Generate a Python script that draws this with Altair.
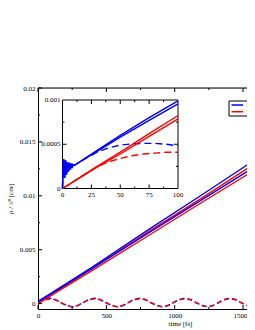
import altair as alt
import pandas as pd

# ---------------- data ----------------
T_BLUE = [0, 0.5, 1, 1.8, 2.6, 3.4, 4.2, 5, 5.8, 6.6, 7.4, 8.2, 9, 10, 30, 50, 75, 100, 400, 800, 1200, 1600]
BLUE_A = [0, 0.00025, 0.00033, 0.00012, 0.00032, 0.00016, 0.0003, 0.00019, 0.00029, 0.00021, 0.00028,
          0.00023, 0.00027, 0.00026, 0.00043, 0.0006, 0.0008, 0.00099, 0.0034, 0.0068, 0.0101, 0.01345]
BLUE_B = [0, 0.00025, 0.00033, 0.00012, 0.00032, 0.00016, 0.0003, 0.00019, 0.00029, 0.00021, 0.00028,
          0.00023, 0.00027, 0.00026, 0.00042, 0.00058, 0.00077, 0.000955, 0.0033, 0.0065, 0.00965, 0.0128]
T_RED = [0, 30, 50, 75, 100, 400, 800, 1200, 1600]
RED_A = [0, 0.00025, 0.00041, 0.00062, 0.000825, 0.0033, 0.0066, 0.0098, 0.0131]
RED_B = [0, 0.00024, 0.00039, 0.00059, 0.000787, 0.0031, 0.00625, 0.0094, 0.0125]

T_BLUE_D = [0, 0.5, 1, 1.8, 2.6, 3.4, 4.2, 5, 5.8, 6.6, 7.4, 8.2, 9, 10, 20, 30, 40, 50, 60, 70, 80, 90, 100,
            125, 165, 210, 250, 290, 330, 370, 415, 455, 495, 540, 580, 620, 660, 700, 745, 785, 825, 870,
            910, 950, 990, 1030, 1075, 1115, 1155, 1200, 1240, 1280, 1320, 1360, 1405, 1445, 1485, 1530,
            1570, 1600]
BLUE_D = [0, 0.00025, 0.00033, 0.00012, 0.00032, 0.00016, 0.0003, 0.00019, 0.00029, 0.00021, 0.00028,
          0.00023, 0.00027, 0.00026, 0.00034, 0.00041, 0.00046, 0.00049, 0.000505, 0.00051, 0.00051, 0.0005,
          0.00048, 0.0004, 0.00012, -0.00017, -0.0003, -0.00018, 0.0001, 0.00038, 0.0005, 0.00038, 0.0001,
          -0.00018, -0.0003, -0.00018, 0.0001, 0.00038, 0.0005, 0.00038, 0.0001, -0.00018, -0.0003, -0.00018,
          0.0001, 0.00038, 0.0005, 0.00038, 0.0001, -0.00018, -0.0003, -0.00018, 0.0001, 0.00038, 0.0005,
          0.00038, 0.0001, -0.00018, -0.0003, -0.00025]
T_RED_D = [0, 30, 40, 50, 60, 70, 80, 90, 100, 125, 165, 210, 250, 290, 330, 370, 415, 455, 495, 540, 580,
           620, 660, 700, 745, 785, 825, 870, 910, 950, 990, 1030, 1075, 1115, 1155, 1200, 1240, 1280, 1320,
           1360, 1405, 1445, 1485, 1530, 1570, 1600]
RED_D = [0, 0.00025, 0.0003, 0.00034, 0.00037, 0.00039, 0.0004, 0.00041, 0.00041, 0.00036, 0.0001,
         -0.00017, -0.0003, -0.00019, 0.00008, 0.00034, 0.00046, 0.00036, 0.00009, -0.00018, -0.0003,
         -0.00019, 0.00008, 0.00034, 0.00046, 0.00036, 0.00009, -0.00018, -0.0003, -0.00019, 0.00008,
         0.00034, 0.00046, 0.00036, 0.00009, -0.00018, -0.0003, -0.00019, 0.00008, 0.00034, 0.00046,
         0.00036, 0.00009, -0.00018, -0.0003, -0.00026]

X_TICKS = [0, 500, 1000, 1500]
X_MINOR = [250, 750, 1250]
Y_TICKS = [0, 0.005, 0.01, 0.015, 0.02]
Y_MINOR = [0.0025, 0.0075, 0.0125, 0.0175]
INSET_X_TICKS = [0, 25, 50, 75, 100]
INSET_X_MINOR = [12.5, 37.5, 62.5, 87.5]
INSET_Y_TICKS = [0, 0.0005, 0.001]
INSET_Y_LABELS = ["0", "0.0005", "0.001"]
INSET_Y_MINOR = [0.00025, 0.00075]
LEGEND_LABELS = ["HEOM", "WPD"]
COLORS = {"blue": "#0000ff", "red": "#ff0000"}

FONT = "Liberation Serif"

def series(ts, vs, name, col):
    return pd.DataFrame({"t": ts, "v": vs, "series": name, "col": col})

solid = pd.concat([
    series(T_BLUE, BLUE_A, "blueA", "blue"),
    series(T_RED, RED_A, "redA", "red"),
    series(T_BLUE, BLUE_B, "blueB", "blue"),
    series(T_RED, RED_B, "redB", "red"),
])
dashed = pd.concat([
    series(T_BLUE_D, BLUE_D, "blueD", "blue"),
    series(T_RED_D, RED_D, "redD", "red"),
])
solid_in = solid[solid.t <= 100]
dashed_in = dashed[dashed.t <= 100]

# plot area: the reference plot runs past the right edge of the picture
W, H = 209, 221
X_MAX = 1529
xs = alt.Scale(domain=[0, X_MAX], nice=False, zero=False)
ys = alt.Scale(domain=[-0.0005, 0.02], nice=False, zero=False)
cs = alt.Scale(domain=list(COLORS.keys()), range=list(COLORS.values()))

IX0, IX1 = 24.5, 140
IY0, IY1 = 100.5, 12
ixs = alt.Scale(domain=[0, 100], range=[IX0, IX1], nice=False, zero=False)
iys = alt.Scale(domain=[0, 0.001], range=[IY0, IY1], nice=False, zero=False)

x_axis = alt.Axis(values=X_TICKS, format="d", title="time [fs]", tickSize=0, domain=True,
                  domainColor="black", domainWidth=1, grid=False,
                  labelFont=FONT, labelFontSize=7, labelColor="black", labelPadding=2,
                  labelAlign={"condition": {"test": "datum.value == 1500", "value": "right"}, "value": "center"},
                  labelOffset={"condition": {"test": "datum.value == 1500", "value": 4}, "value": 0},
                  titleFont=FONT, titleFontSize=7, titleFontWeight="normal", titleColor="black",
                  titlePadding=1, titleX=142, titleAnchor="middle")
y_axis = alt.Axis(values=Y_TICKS, format="~g", title="ρ / λᴮ [cm]", tickSize=0, domain=True,
                  domainColor="black", domainWidth=1, grid=False,
                  labelFont=FONT, labelFontSize=7, labelColor="black", labelPadding=3,
                  titleFont=FONT, titleFontSize=7, titleFontWeight="normal", titleColor="black",
                  titlePadding=6)

main_solid = alt.Chart(solid).mark_line(clip=True, strokeWidth=1.4).encode(
    x=alt.X("t:Q", scale=xs, axis=x_axis),
    y=alt.Y("v:Q", scale=ys, axis=y_axis),
    color=alt.Color("col:N", scale=cs, legend=None),
    detail="series:N",
    order="t:Q",
)
main_dashed = alt.Chart(dashed).mark_line(clip=True, strokeWidth=1.4, strokeDash=[5, 3]).encode(
    x=alt.X("t:Q", scale=xs, axis=x_axis),
    y=alt.Y("v:Q", scale=ys, axis=y_axis),
    color=alt.Color("col:N", scale=cs, legend=None),
    detail="series:N",
    order="t:Q",
)

def xticks(vals, scale, ya, yb, axis=None):
    return alt.Chart(pd.DataFrame({"v": vals})).mark_rule(color="black", strokeWidth=1).encode(
        x=alt.X("v:Q", scale=scale, axis=axis), y=alt.value(ya), y2=alt.value(yb))

def yticks(vals, scale, xa, xb, axis=None):
    return alt.Chart(pd.DataFrame({"v": vals})).mark_rule(color="black", strokeWidth=1).encode(
        y=alt.Y("v:Q", scale=scale, axis=axis), x=alt.value(xa), x2=alt.value(xb))

top_frame = alt.Chart(pd.DataFrame({"a": [0]})).mark_rule(color="black", strokeWidth=1).encode(
    x=alt.value(0), x2=alt.value(W + 10), y=alt.value(0))

main_ticks = [
    xticks(X_TICKS, xs, H, H - 4, x_axis), xticks(X_TICKS, xs, 0, 4, x_axis),
    xticks(X_MINOR, xs, H, H - 2, x_axis), xticks(X_MINOR, xs, 0, 2, x_axis),
    yticks(Y_TICKS, ys, 0, 4, y_axis), yticks(Y_MINOR, ys, 0, 2, y_axis),
]

main = alt.layer(main_solid, main_dashed, *main_ticks)

frame = alt.Chart(pd.DataFrame({"a": [0]})).mark_rect(fill="white", stroke="black", strokeWidth=1).encode(
    x=alt.datum(0, scale=ixs, axis=None), x2=alt.datum(100),
    y=alt.datum(0, scale=iys, axis=None), y2=alt.datum(0.001),
)
in_solid = alt.Chart(solid_in).mark_line(strokeWidth=1.4).encode(
    x=alt.X("t:Q", scale=ixs, axis=None),
    y=alt.Y("v:Q", scale=iys, axis=None),
    color=alt.Color("col:N", scale=cs, legend=None),
    detail="series:N",
    order="t:Q",
)
in_dashed = alt.Chart(dashed_in).mark_line(strokeWidth=1.4, strokeDash=[7, 4]).encode(
    x=alt.X("t:Q", scale=ixs, axis=None),
    y=alt.Y("v:Q", scale=iys, axis=None),
    color=alt.Color("col:N", scale=cs, legend=None),
    detail="series:N",
    order="t:Q",
)
in_ticks = [
    xticks(INSET_X_TICKS[1:-1], ixs, IY0, IY0 - 4), xticks(INSET_X_TICKS[1:-1], ixs, IY1, IY1 + 4),
    xticks(INSET_X_MINOR, ixs, IY0, IY0 - 2), xticks(INSET_X_MINOR, ixs, IY1, IY1 + 2),
    yticks(INSET_Y_TICKS[1:-1], iys, IX0, IX0 + 4), yticks(INSET_Y_TICKS[1:-1], iys, IX1, IX1 - 4),
    yticks(INSET_Y_MINOR, iys, IX0, IX0 + 2), yticks(INSET_Y_MINOR, iys, IX1, IX1 - 2),
]
in_xlab = alt.Chart(pd.DataFrame({"v": INSET_X_TICKS, "s": [str(v) for v in INSET_X_TICKS]})).mark_text(
    font=FONT, fontSize=7, baseline="top", color="black").encode(
    x=alt.X("v:Q", scale=ixs, axis=None), y=alt.value(IY0 + 2.5), text="s:N")
in_ylab = alt.Chart(pd.DataFrame({"v": INSET_Y_TICKS, "s": INSET_Y_LABELS})).mark_text(
    font=FONT, fontSize=7, align="right", baseline="middle", color="black").encode(
    y=alt.Y("v:Q", scale=iys, axis=None), x=alt.value(IX0 - 2), text="s:N")

inset = alt.layer(frame, in_dashed, in_solid, *in_ticks, in_xlab, in_ylab)

one = pd.DataFrame({"a": [0]})
leg_box = alt.Chart(one).mark_rect(fill="white", stroke="black", strokeWidth=1).encode(
    x=alt.value(191), x2=alt.value(260), y=alt.value(13), y2=alt.value(28))
leg = [top_frame, leg_box]
for i, (lab, col) in enumerate(zip(LEGEND_LABELS, COLORS.values())):
    yy = 17 + i * 6.7
    leg.append(alt.Chart(one).mark_rule(color=col, strokeWidth=1.5).encode(
        x=alt.value(193.5), x2=alt.value(205), y=alt.value(yy)))
    leg.append(alt.Chart(pd.DataFrame({"s": [lab]})).mark_text(
        font=FONT, fontSize=7, align="left", baseline="middle", color="black").encode(
        x=alt.value(208.5), y=alt.value(yy), text="s:N"))
legend = alt.layer(*leg)

chart = alt.layer(main, inset, legend).resolve_scale(
    x="independent", y="independent", color="independent"
).properties(
    width=W, height=H,
    padding={"left": 30, "top": 80, "right": 0, "bottom": 25},
    autosize=alt.AutoSizeParams(type="none"),
).configure_view(stroke=None).configure(background="white")

chart.save("out.html", embed_options={"renderer": "svg", "actions": False})
